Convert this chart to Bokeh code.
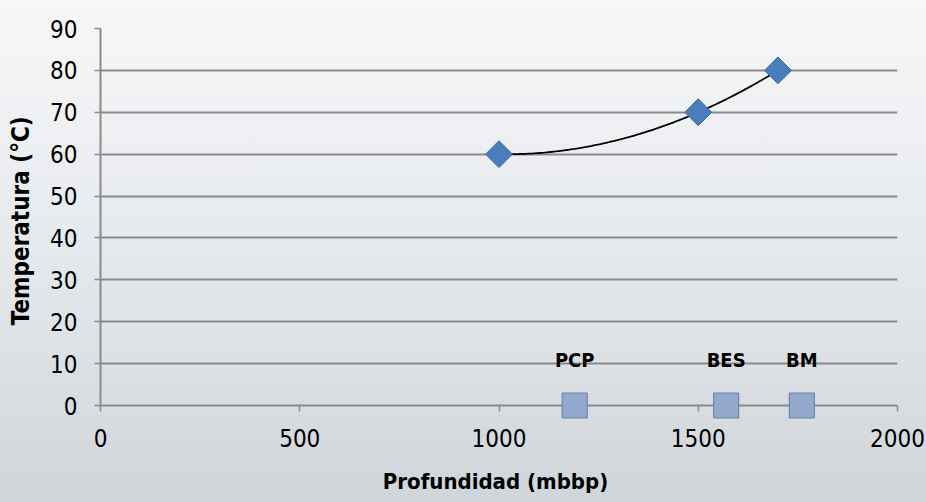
import numpy as np
from bokeh.plotting import figure
from bokeh.models import ColumnDataSource, Range1d, FixedTicker, LabelSet
from bokeh.core.properties import value
from bokeh.embed import file_html
from bokeh.resources import INLINE

# Data
depth = [1000, 1500, 1700]
temperature = [60, 70, 80]
marker_depth = [1190, 1570, 1760]
marker_temp = [0, 0, 0]
marker_labels = ["PCP", "BES", "BM"]
x_ticks = [0, 500, 1000, 1500, 2000]
y_ticks = [0, 10, 20, 30, 40, 50, 60, 70, 80, 90]

FONT = "'Liberation Sans Narrow', 'DejaVu Sans Condensed', 'Liberation Sans', sans-serif"

p = figure(width=926, height=502, output_backend="svg", toolbar_location=None,
           x_range=Range1d(0, 2000), y_range=Range1d(0, 90),
           min_border_left=100, min_border_right=29, min_border_top=28, min_border_bottom=97)
p.styles = {"background": "linear-gradient(to bottom, #f6f7f9 0%, #e6e9ec 50%, #d0d5d9 100%)"}
p.background_fill_alpha = 0
p.border_fill_alpha = 0
p.outline_line_color = None

# axes
p.xaxis.ticker = FixedTicker(ticks=x_ticks)
p.yaxis.ticker = FixedTicker(ticks=y_ticks)
for ax in (p.xaxis[0], p.yaxis[0]):
    ax.axis_line_color = "#8a8a8a"
    ax.axis_line_width = 2
    ax.major_tick_line_color = "#8a8a8a"
    ax.major_tick_line_width = 1.5
    ax.major_tick_out = 6
    ax.major_tick_in = 0
    ax.minor_tick_line_color = None
    ax.major_label_text_font = FONT
    ax.major_label_text_font_size = "24px"
    ax.major_label_text_color = "#000000"
    ax.axis_label_text_font = FONT
    ax.axis_label_text_font_style = "bold"
    ax.axis_label_text_color = "#000000"
p.xaxis.axis_label = "Profundidad  (mbbp)"
p.yaxis.axis_label = "Temperatura  (°C)"
p.xaxis.axis_label_text_font_size = "22px"
p.yaxis.axis_label_text_font_size = "24px"
p.xaxis.major_label_standoff = 17
p.xaxis.axis_label_standoff = 19
p.yaxis.major_label_standoff = 17
p.yaxis.axis_label_standoff = 12

p.xgrid.grid_line_color = None
p.ygrid.grid_line_color = "#8a8a8a"
p.ygrid.grid_line_width = 2

# polynomial trendline (order 2) from the data
coef = np.polyfit(depth, temperature, 2)
xs = np.linspace(min(depth), max(depth), 100)
p.line(xs, np.polyval(coef, xs), line_color="#000000", line_width=1.8)

# data diamonds
src = ColumnDataSource(dict(x=depth, y=temperature))
p.scatter("x", "y", source=src, marker="square", angle=np.pi / 4, size=19,
          fill_color="#4a7ebb", line_color="#3a6aa5", line_width=1)

# equipment markers
msrc = ColumnDataSource(dict(x=marker_depth, y=marker_temp, t=marker_labels))
p.scatter("x", "y", source=msrc, marker="square", size=25,
          fill_color="#93a8cd", line_color="#6c84ad", line_width=1.2,
          level="overlay")
labels = LabelSet(x="x", y="y", text="t", source=msrc, y_offset=46,
                  text_align="center", text_baseline="middle",
                  text_font=value(FONT), text_font_size="20px",
                  text_font_style="bold", text_color="#000000")
p.add_layout(labels)

open("out.html", "w").write(file_html(p, INLINE))
